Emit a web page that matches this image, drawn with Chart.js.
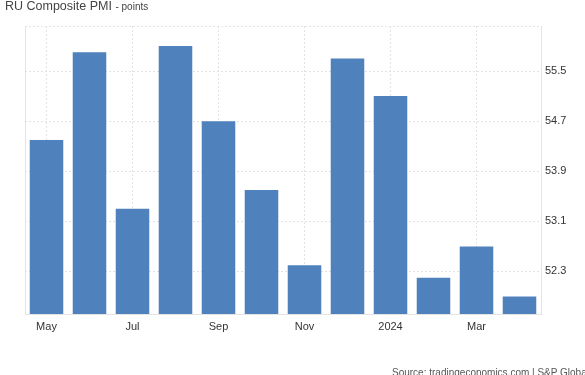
<!DOCTYPE html>
<html>
<head>
<meta charset="utf-8">
<script src="https://cdn.jsdelivr.net/npm/chart.js@4"></script>
<style>
  body { margin:0; background:#fff; font-family:"Liberation Sans", Arial, sans-serif; }
  #wrap { position:relative; width:585px; height:375px; overflow:hidden; }
  #title { position:absolute; left:5px; top:-1px; font-size:12.5px; color:#444; }
  #title span { font-size:10px; }
  #source { position:absolute; left:392px; top:367px; font-size:10px; color:#555; white-space:nowrap; }
  canvas { position:absolute; left:0; top:0; }
</style>
</head>
<body>
<div id="wrap">
  <canvas id="chart1" width="585" height="375"></canvas>
  <div id="title">RU Composite PMI <span>- points</span></div>
  <div id="source">Source: tradingeconomics.com | S&amp;P Global</div>
</div>
<script>
    let months = ['May', 'Jun', 'Jul', 'Aug', 'Sep', 'Oct', 'Nov', 'Dec', '2024', 'Feb', 'Mar', 'Apr'];
    let pmiValues = [54.4, 55.8, 53.3, 55.9, 54.7, 53.6, 52.4, 55.7, 55.1, 52.2, 52.7, 51.9];
    let yTicks = [52.3, 53.1, 53.9, 54.7, 55.5];

    let gridGray = '#e2e2e2';

    let ctx = document.getElementById('chart1').getContext('2d');

    let pmiChart = new Chart(ctx, {
    type:'bar',
    data:{
    labels:months,
    datasets:[{
    label:'RU Composite PMI',
    data:pmiValues,
    backgroundColor:'#4f81bd',
    borderWidth:0,
    categoryPercentage:0.78,
    barPercentage:1
}]
},
    options:{
    responsive:false,
    animation:false,
    layout:{
    padding:{ left:25, top:26, right:0, bottom:0 }
},
    plugins:{
    legend:{ display:false },
    tooltip:{ enabled:false }
},
    scales:{
    x:{
    afterFit:function(scale) { scale.height = 61; },
    grid:{
    offset:false,
    color:function(c) { return c.index % 2 === 0 ? gridGray : 'transparent'; },
    tickLength:0,
    drawTicks:false
},
    border:{ display:true, color:'#e2e2e2', dash:[2, 2] },
    ticks:{
    autoSkip:false,
    maxRotation:0,
    padding:6,
    color:'#333',
    font:{ family:'Liberation Sans', size:11 },
    callback:function(val, i) { return i % 2 === 0 ? months[i] : ''; }
}
},
    y:{
    position:'right',
    min:51.62,
    max:56.22,
    afterFit:function(scale) { scale.width = 44; },
    afterBuildTicks:function(scale) {
    scale.ticks = yTicks.map(function(v) { return { value:v }; });
},
    grid:{
    color:gridGray,
    drawTicks:false,
    tickLength:0
},
    border:{ display:true, color:'#dcdcdc', dash:[2, 2] },
    ticks:{
    padding:4,
    color:'#333',
    font:{ family:'Liberation Sans', size:11 },
    callback:function(v) { return v.toFixed(1); }
}
}
}
},
    plugins:[{
    id:'frame',
    afterDraw:function(chart) {
    let a = chart.chartArea;
    let c = chart.ctx;
    c.save();
    c.strokeStyle = '#e4e4e4';
    c.lineWidth = 1;
    c.setLineDash([2, 2]);
    c.beginPath();
    c.moveTo(a.left, a.top + 0.5);
    c.lineTo(a.right, a.top + 0.5);
    c.stroke();
    c.setLineDash([]);
    c.beginPath();
    c.moveTo(a.left + 0.5, a.top);
    c.lineTo(a.left + 0.5, a.bottom);
    c.moveTo(a.left, a.bottom + 0.5);
    c.lineTo(a.right, a.bottom + 0.5);
    c.moveTo(a.right + 0.5, a.top);
    c.lineTo(a.right + 0.5, a.bottom);
    c.stroke();
    c.restore();
}
}]
});
</script>
</body>
</html>
